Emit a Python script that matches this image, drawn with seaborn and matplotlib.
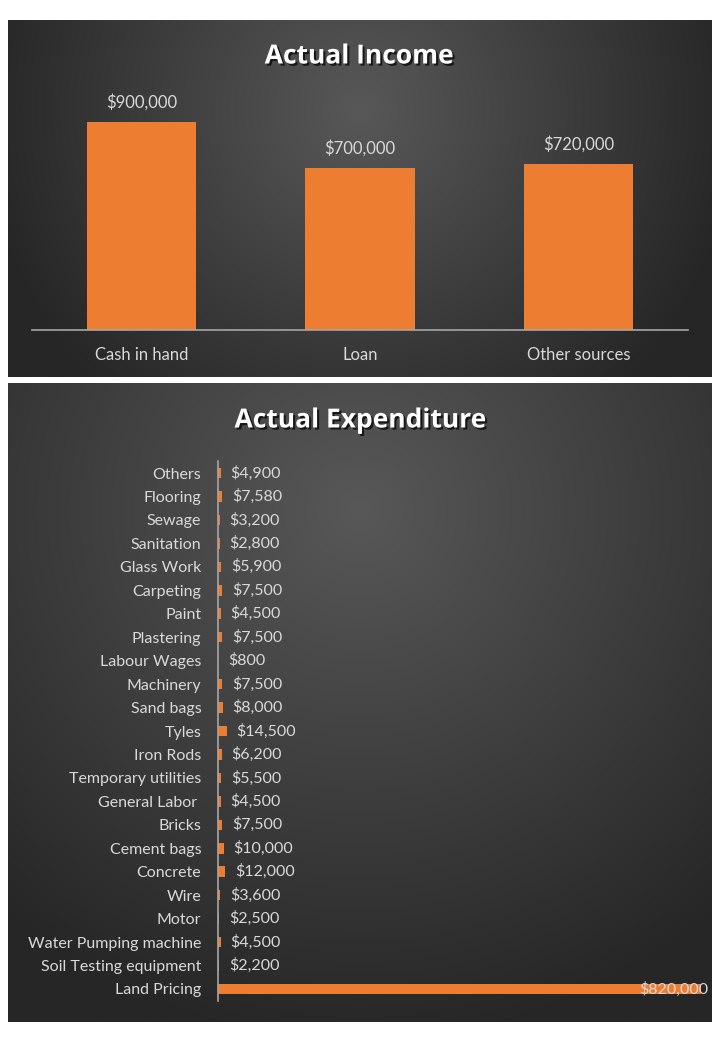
import numpy as np
import matplotlib
matplotlib.use("Agg")
import matplotlib.pyplot as plt
import matplotlib.patheffects as pe
import seaborn as sns
import pandas as pd

income_categories = ["Cash in hand", "Loan", "Other sources"]
income_values = [900000, 700000, 720000]

exp_categories = ["Others", "Flooring", "Sewage", "Sanitation", "Glass Work", "Carpeting",
                  "Paint", "Plastering", "Labour Wages", "Machinery", "Sand bags", "Tyles",
                  "Iron Rods", "Temporary utilities", "General Labor ", "Bricks", "Cement bags",
                  "Concrete", "Wire", "Motor", "Water Pumping machine", "Soil Testing equipment",
                  "Land Pricing"]
exp_values = [4900, 7580, 3200, 2800, 5900, 7500, 4500, 7500, 800, 7500, 8000, 14500,
              6200, 5500, 4500, 7500, 10000, 12000, 3600, 2500, 4500, 2200, 820000]

sns.set_theme(style="white")
plt.rcParams['font.family'] = ['Lato', 'DejaVu Sans']

ORANGE = "#ED7D31"
TXT = "#D9D9D9"
W, H = 720, 1040
fig = plt.figure(figsize=(7.2, 10.4), dpi=100)
fig.patch.set_facecolor("white")


def fx(x):
    return x / W


def fy(y):
    return 1 - y / H


def panel(x0, y0, x1, y1, cx=0.5, cy=0.3):
    ax = fig.add_axes([fx(x0), fy(y1), fx(x1 - x0), (y1 - y0) / H], zorder=0)
    nx, ny = 300, 300
    xs = np.linspace(0, 1, nx)
    ys = np.linspace(0, 1, ny)
    X, Y = np.meshgrid(xs, ys)
    aspect = (y1 - y0) / (x1 - x0)
    d = np.sqrt((X - cx) ** 2 + ((Y - cy) * aspect) ** 2)
    d = d / d.max()
    light, dark = 0x58, 0x26
    v = (light - (light - dark) * np.clip(d * 1.15, 0, 1)) / 255.0
    img = np.dstack([v, v, v])
    ax.imshow(img, extent=[0, 1, 0, 1], origin="upper", aspect="auto")
    ax.set_xlim(0, 1)
    ax.set_ylim(0, 1)
    ax.axis("off")
    return ax


panel(8, 20, 712, 377, cx=0.5, cy=0.25)
panel(8, 383, 712, 1022, cx=0.5, cy=0.2)

title_fx = [pe.SimplePatchShadow(offset=(1.5, -1.5), shadow_rgbFace="black", alpha=0.7), pe.Normal()]
fig.text(fx(359), fy(56), "Actual Income", ha="center", va="center", color="white",
         fontsize=19, fontweight="bold", family=["Open Sans", "DejaVu Sans"],
         path_effects=title_fx, zorder=5)
fig.text(fx(360), fy(420), "Actual Expenditure", ha="center", va="center", color="white",
         fontsize=19, fontweight="bold", family=["Open Sans", "DejaVu Sans"],
         path_effects=title_fx, zorder=5)

# ---- Income chart
ax1 = fig.add_axes([fx(32), fy(330), fx(688 - 32), (330 - 95) / H], zorder=2)
ax1.patch.set_alpha(0)
df1 = pd.DataFrame({"cat": income_categories, "val": income_values})
sns.barplot(data=df1, x="cat", y="val", color=ORANGE, saturation=1, width=0.5,
            linewidth=0, edgecolor="none", ax=ax1)
ax1.set_ylim(0, 900000 * (330 - 95) / 208)
ax1.set_xlim(-0.5, 2.5)
for i, v in enumerate(income_values):
    ax1.annotate(f"${v:,.0f}", (i, v), xytext=(0, 8), textcoords="offset points",
                 ha="center", va="bottom", color=TXT, fontsize=12)
ax1.set_xlabel("")
ax1.set_ylabel("")
ax1.set_yticks([])
for s in ["top", "right", "left"]:
    ax1.spines[s].set_visible(False)
ax1.spines["bottom"].set_color("#A6A6A6")
ax1.spines["bottom"].set_linewidth(1.2)
ax1.tick_params(axis="x", colors=TXT, labelsize=12, length=0, pad=12)

# ---- Expenditure chart
top, bot = 461.3, 1000.7
ax2 = fig.add_axes([fx(218), fy(bot), fx(701 - 218), (bot - top) / H], zorder=2)
ax2.patch.set_alpha(0)
df2 = pd.DataFrame({"cat": exp_categories, "val": exp_values})
sns.barplot(data=df2, y="cat", x="val", color=ORANGE, saturation=1, width=0.45,
            orient="h", linewidth=0, edgecolor="none", ax=ax2)
ax2.set_xlim(0, 820000)
ax2.set_ylim(len(exp_categories) - 0.5, -0.5)
for i, v in enumerate(exp_values):
    if v >= 500000:
        ax2.annotate(f"${v:,.0f}", (v, i), xytext=(5, 0), textcoords="offset points",
                     ha="right", va="center", color=TXT, fontsize=11.5,
                     annotation_clip=False)
    else:
        ax2.annotate(f"${v:,.0f}", (v, i), xytext=(7, 0), textcoords="offset points",
                     ha="left", va="center", color=TXT, fontsize=11.5)
ax2.set_xlabel("")
ax2.set_ylabel("")
ax2.set_xticks([])
for s in ["top", "right", "bottom"]:
    ax2.spines[s].set_visible(False)
ax2.spines["left"].set_color("#A6A6A6")
ax2.spines["left"].set_linewidth(1.2)
ax2.tick_params(axis="y", colors=TXT, labelsize=11.5, length=0, pad=12)

fig.savefig("out.png", dpi=100, facecolor="white")
